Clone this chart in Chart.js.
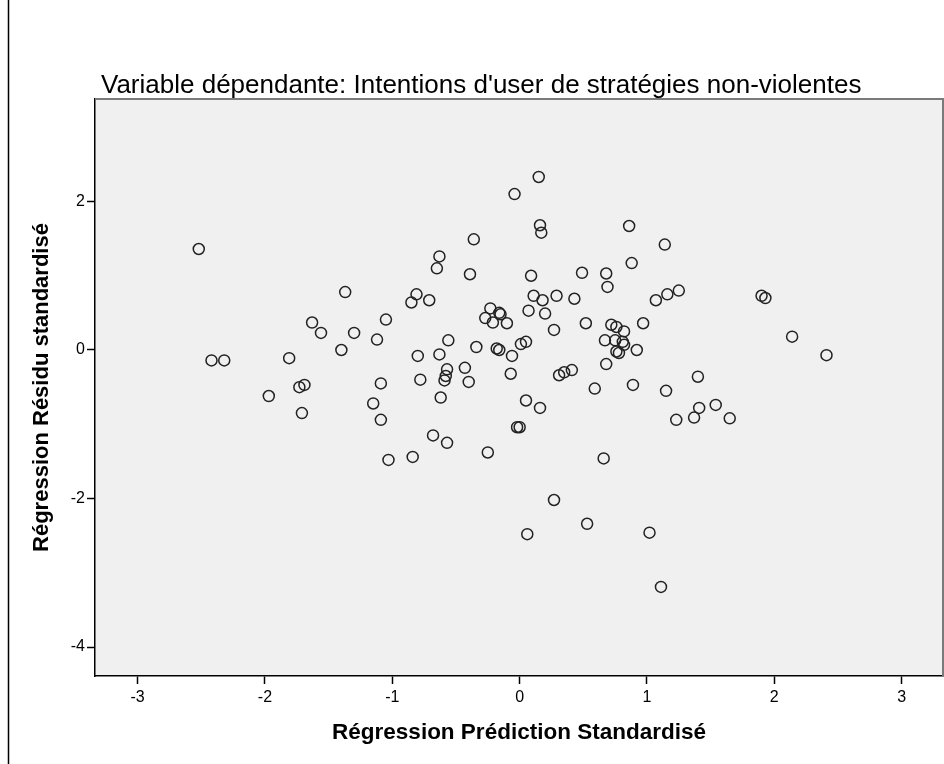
<!DOCTYPE html>
<html><head><meta charset="utf-8">
<script src="https://cdn.jsdelivr.net/npm/chart.js@4/dist/chart.umd.min.js"></script>
<style>html,body{margin:0;padding:0;background:#fff;overflow:hidden;}#wrap{width:944px;height:764px;}canvas{display:block;}</style>
</head><body><div id="wrap"><canvas id="c" width="944" height="764"></canvas></div>
<script>
const chartTitle = "Variable dépendante: Intentions d'user de stratégies non-violentes";
const xAxisTitle = "Régression Prédiction Standardisé";
const yAxisTitle = "Régression Résidu standardisé";
const xTicks = [-3, -2, -1, 0, 1, 2, 3];
const yTicks = [-4, -2, 0, 2];
const predicted = [
 -2.52,-2.42,-2.32,-1.97,-1.81,-1.73,-1.69,-1.71,-1.63,-1.56,
 -1.37,-1.40,-1.30,-1.05,-1.12,-1.09,-1.15,-1.09,-1.03,-0.84,
 -0.85,-0.81,-0.71,-0.80,-0.78,-0.68,-0.57,-0.63,-0.65,-0.63,
 -0.62,-0.56,-0.57,-0.58,-0.59,-0.43,-0.40,-0.39,-0.36,-0.34,
 -0.25,-0.23,-0.27,-0.21,-0.16,-0.15,-0.10,-0.18,-0.16,-0.06,
 -0.07,-0.04,-0.02,0.00,0.01,0.05,0.05,0.06,0.07,0.09,
 0.11,0.15,0.16,0.17,0.16,0.18,0.20,0.27,0.29,0.27,
 0.31,0.35,0.41,0.43,0.49,0.52,0.53,0.59,0.66,0.67,
 0.68,0.68,0.69,0.72,0.76,0.75,0.76,0.78,0.81,0.82,
 0.82,0.86,0.88,0.89,0.92,0.97,1.02,1.07,1.11,1.14,
 1.15,1.16,1.23,1.25,1.37,1.40,1.41,1.54,1.65,1.90,
 1.93,2.14,2.41
];
const residuals = [
 1.36,-0.14,-0.14,-0.62,-0.11,-0.50,-0.47,-0.85,0.37,0.23,
 0.78,0.00,0.23,0.41,0.14,-0.45,-0.72,-0.94,-1.48,-1.44,
 0.64,0.75,0.67,-0.08,-0.40,-1.15,-1.25,1.26,1.10,-0.06,
 -0.64,0.13,-0.26,-0.35,-0.41,-0.24,-0.43,1.02,1.49,0.04,
 -1.38,0.56,0.43,0.37,0.50,0.48,0.36,0.02,0.00,-0.08,
 -0.32,2.10,-1.04,-1.04,0.08,0.11,-0.68,-2.48,0.53,1.00,
 0.73,2.33,1.68,1.58,-0.78,0.67,0.49,0.27,0.73,-2.02,
 -0.34,-0.30,-0.27,0.69,1.04,0.36,-2.34,-0.52,-1.46,0.13,
 -0.19,1.03,0.85,0.34,0.31,0.13,-0.02,-0.04,0.11,0.07,
 0.25,1.67,1.17,-0.47,0.00,0.36,-2.46,0.67,-3.19,1.42,
 -0.55,0.75,-0.94,0.80,-0.91,-0.36,-0.78,-0.74,-0.92,0.73,
 0.70,0.18,-0.07
];
const points = predicted.map((x, i) => ({x: x, y: residuals[i]}));

const framePlugin = {
  id: 'frame',
  beforeDraw(chart) {
    const ctx = chart.ctx, a = chart.chartArea;
    ctx.save();
    ctx.fillStyle = '#fff';
    ctx.fillRect(0, 0, chart.width, chart.height);
    ctx.fillStyle = '#f0f0f0';
    ctx.fillRect(a.left, a.top, a.right - a.left, a.bottom - a.top);
    ctx.strokeStyle = '#000';
    ctx.lineWidth = 1.5;
    ctx.beginPath();
    ctx.moveTo(8.5, 0); ctx.lineTo(8.5, chart.height);
    ctx.stroke();
    ctx.restore();
  },
  afterDraw(chart) {
    const ctx = chart.ctx, a = chart.chartArea;
    ctx.save();
    ctx.strokeStyle = '#7a7a7a';
    ctx.lineWidth = 2;
    ctx.beginPath();
    ctx.moveTo(a.left, a.top); ctx.lineTo(a.right, a.top); ctx.lineTo(a.right, a.bottom);
    ctx.stroke();
    ctx.fillStyle = '#000';
    ctx.font = '26px "Liberation Sans", Arial, sans-serif';
    ctx.textBaseline = 'alphabetic';
    ctx.textAlign = 'left';
    ctx.fillText(chartTitle, 101, 93);
    ctx.restore();
  }
};

const tickFont = {family: '"Liberation Sans", Arial, sans-serif', size: 16};
const xTitleFont = {family: '"Liberation Sans", Arial, sans-serif', size: 22.5, weight: 'bold'};
const yTitleFont = {family: '"Liberation Sans", Arial, sans-serif', size: 22, weight: 'bold'};

new Chart(document.getElementById('c'), {
  type: 'scatter',
  data: {datasets: [{
    data: points,
    pointRadius: 5.5,
    pointHoverRadius: 5.5,
    pointBorderWidth: 1.5,
    pointBorderColor: '#222',
    pointBackgroundColor: 'rgba(0,0,0,0)',
    showLine: false
  }]},
  options: {
    responsive: false,
    devicePixelRatio: 1,
    animation: false,
    events: [],
    layout: {autoPadding: false, padding: {top: 99, right: 1, bottom: 0, left: 0}},
    plugins: {legend: {display: false}, tooltip: {enabled: false}, title: {display: false}},
    scales: {
      x: {
        type: 'linear', position: 'bottom', min: -3.335, max: 3.325,
        afterFit: s => { s.height = 88; s.paddingLeft = 0; s.paddingRight = 0; },
        afterBuildTicks: s => { s.ticks = xTicks.map(v => ({value: v})); },
        grid: {drawOnChartArea: false, drawTicks: true, tickLength: 8, tickColor: '#000', tickWidth: 1.5},
        border: {display: true, color: '#000', width: 1.5},
        ticks: {font: tickFont, color: '#000', padding: 4, maxRotation: 0, autoSkip: false, callback: v => String(v)},
        title: {display: true, text: xAxisTitle, font: xTitleFont, color: '#000', padding: {top: 0, bottom: 18}}
      },
      y: {
        type: 'linear', position: 'left', min: -4.39, max: 3.38,
        afterFit: s => { s.width = 95; s.paddingTop = 0; s.paddingBottom = 0; },
        afterBuildTicks: s => { s.ticks = yTicks.map(v => ({value: v})); },
        grid: {drawOnChartArea: false, drawTicks: true, tickLength: 8, tickColor: '#000', tickWidth: 1.5},
        border: {display: true, color: '#000', width: 1.5},
        ticks: {font: tickFont, color: '#000', padding: 2, autoSkip: false, callback: v => String(v)},
        title: {display: true, text: yAxisTitle, font: yTitleFont, color: '#000', padding: {top: 29, bottom: 0}}
      }
    }
  },
  plugins: [framePlugin]
});
</script></body></html>
